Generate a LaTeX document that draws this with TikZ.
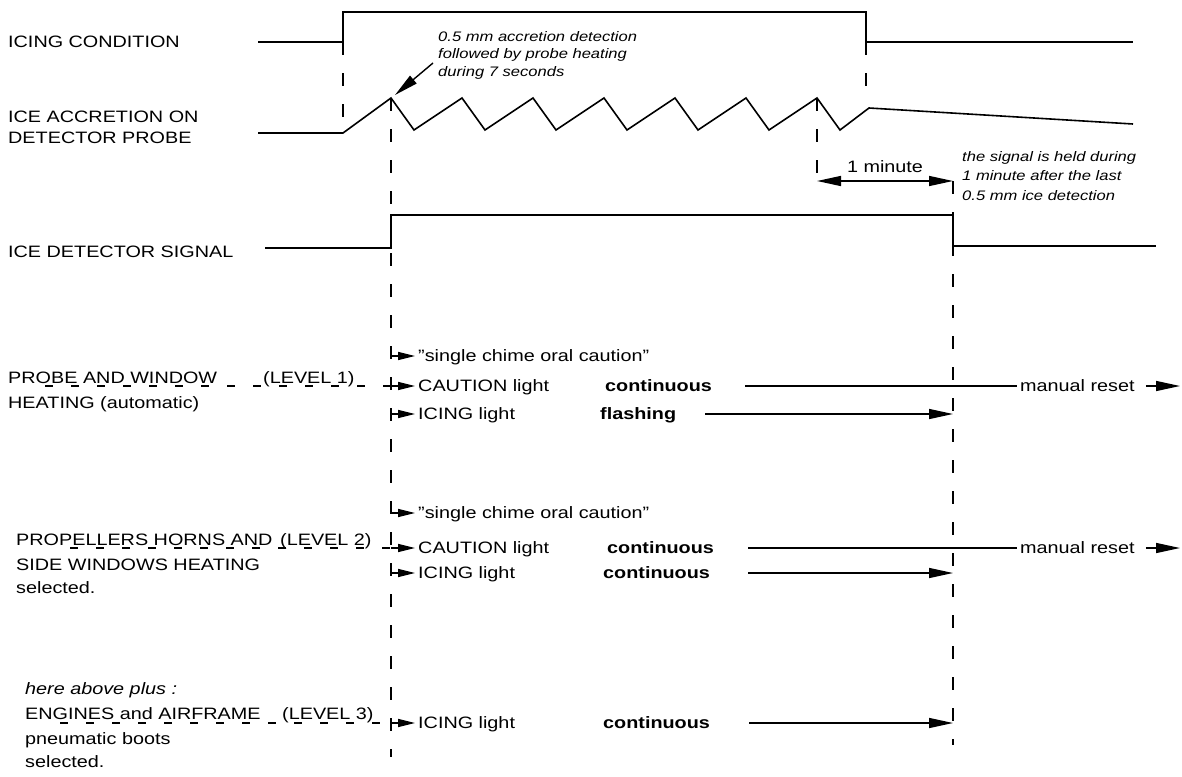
\documentclass[tikz,border=0pt]{standalone}
\usepackage{fontspec}
\setmainfont{Liberation Sans}[FakeStretch=1.2]
\usetikzlibrary{arrows.meta}

\begin{document}
\begin{tikzpicture}[
    x=1pt, y=-1pt,
    sig/.style={line width=1.6pt},
    guide/.style={line width=1.4pt, dash pattern=on 13pt off 18pt},
    leader/.style={line width=1.2pt, dash pattern=on 8pt off 18pt},
    tip/.style={-{Triangle[length=17pt,width=8pt]}, line width=1.4pt, shorten >=3pt},
    bigtip/.style={-{Triangle[length=24pt,width=10pt]}, line width=1.4pt},
    lbl/.style={anchor=base west, inner sep=0pt, font=\fontsize{16.5}{21}\selectfont},
    state/.style={lbl, font=\fontsize{16.5}{21}\selectfont\bfseries},
    note/.style={anchor=north west, inner sep=0pt, align=left,
                 font=\fontsize{13.8}{18}\selectfont\itshape}
]
\useasboundingbox (0,0) rectangle (1182,776);
\fill[white] (0,0) rectangle (1182,776);

% signals
\node[lbl] (icingLbl)  at (8,48)  {ICING CONDITION};
\node[lbl] (accrLbl)   at (8,122) {ICE ACCRETION ON};
\node[lbl] (probeLbl)  at (8,143) {DETECTOR PROBE};
\node[lbl] (signalLbl) at (8,257) {ICE DETECTOR SIGNAL};

\draw[sig] (258,42) -- (343,42) -- (343,12) -- (866,12) -- (866,42) -- (1133,42);
\draw[sig] (258,133) -- (343,133) -- (391,98)
    \foreach \k in {1,...,6} { -- ({343+71*\k},130) -- ({391+71*\k},98) }
    -- (840,130) -- (869,108) -- (1133,124);
\draw[sig] (265,248) -- (391,248) -- (391,215) -- (953,215) -- (953,246) -- (1156,246);

\coordinate (peakFirst) at (391,98);
\coordinate (peakLast)  at (817,98);
\coordinate (minFrom)   at (817,181);
\coordinate (minTo)     at (953,181);

% time guides
\draw[guide] (343,42) -- (343,133);
\draw[guide] (866,42) -- (866,92);
\draw[guide] (peakFirst) -- (391,757);
\draw[guide] (peakLast) -- (817,176);
\draw[guide] (minTo) -- (953,745);

\draw[{Triangle[length=24pt,width=10pt]}-{Triangle[length=24pt,width=10pt]}, line width=1.4pt]
    (minFrom) -- node[above=8pt, inner sep=0pt, font=\fontsize{16.5}{21}\selectfont] (minLbl) {1 minute} (minTo);

\node[note, font=\fontsize{13.8}{17.5}\selectfont\itshape] (noteProbe) at (438,31)
    {0.5 mm accretion detection\\followed by probe heating\\during 7 seconds};
\coordinate (noteTail) at (433,63);
\coordinate (noteHead) at (395,95);
\draw[bigtip] (noteTail) -- (noteHead);

\node[note, font=\fontsize{13.8}{19.5}\selectfont\itshape] (noteHold) at (962,151)
    {the signal is held during\\1 minute after the last\\0.5 mm ice detection};

% level 1
\node[lbl] (lvlOneA)   at (8,383)   {PROBE AND WINDOW};
\node[lbl] (lvlOneTag) at (263,383) {(LEVEL 1)};
\node[lbl] (lvlOneB)   at (8,408)   {HEATING (automatic)};
\coordinate (lvlOneStart) at (45,386);
\coordinate (chimeOneFrom) at (391,356);
\coordinate (cautOneFrom)  at (391,386);
\coordinate (iceOneFrom)   at (391,414);
\draw[leader] (lvlOneStart) -- (cautOneFrom);

\node[lbl]   (chimeOne) at (418,361) {"single chime oral caution"};
\node[lbl]   (cautOne)  at (418,391) {CAUTION light};
\node[lbl]   (iceOne)   at (418,419) {ICING light};
\node[state] (contOne)  at (605,391) {continuous};
\node[state] (flashOne) at (600,419) {flashing};
\node[lbl]   (resetOne) at (1020,391) {manual reset};

\draw[tip] (chimeOneFrom) -- (chimeOneFrom -| chimeOne.west);
\draw[tip] (cautOneFrom) -- (cautOneFrom -| cautOne.west);
\draw[tip] (iceOneFrom) -- (iceOneFrom -| iceOne.west);

\coordinate (cautOneLine) at (745,386);
\coordinate (resetOneTip) at (1180,386);
\coordinate (flashOneFrom) at (705,414);
\coordinate (flashOneTo)   at (953,414);
\draw[line width=1.4pt] (cautOneLine) -- ([xshift=-3pt]cautOneLine -| resetOne.west);
\draw[bigtip] ([xshift=11pt]resetOneTip -| resetOne.east) -- (resetOneTip);
\draw[bigtip] (flashOneFrom) -- (flashOneTo);

% level 2
\node[lbl] (lvlTwoA)   at (16,545)  {PROPELLERS HORNS AND};
\node[lbl] (lvlTwoTag) at (280,545) {(LEVEL 2)};
\node[lbl] (lvlTwoB)   at (16,570)  {SIDE WINDOWS HEATING};
\node[lbl] (lvlTwoC)   at (16,593)  {selected.};
\coordinate (lvlTwoStart) at (70,548);
\coordinate (chimeTwoFrom) at (391,513);
\coordinate (cautTwoFrom)  at (391,548);
\coordinate (iceTwoFrom)   at (391,573);
\draw[leader] (lvlTwoStart) -- (cautTwoFrom);

\node[lbl]   (chimeTwo) at (418,518) {"single chime oral caution"};
\node[lbl]   (cautTwo)  at (418,553) {CAUTION light};
\node[lbl]   (iceTwo)   at (418,578) {ICING light};
\node[state] (contTwo)  at (607,553) {continuous};
\node[state] (keepTwo)  at (603,578) {continuous};
\node[lbl]   (resetTwo) at (1020,553) {manual reset};

\draw[tip] (chimeTwoFrom) -- (chimeTwoFrom -| chimeTwo.west);
\draw[tip] (cautTwoFrom) -- (cautTwoFrom -| cautTwo.west);
\draw[tip] (iceTwoFrom) -- (iceTwoFrom -| iceTwo.west);

\coordinate (cautTwoLine) at (748,548);
\coordinate (resetTwoTip) at (1180,548);
\coordinate (keepTwoFrom) at (748,573);
\coordinate (keepTwoTo)   at (953,573);
\draw[line width=1.4pt] (cautTwoLine) -- ([xshift=-3pt]cautTwoLine -| resetTwo.west);
\draw[bigtip] ([xshift=11pt]resetTwoTip -| resetTwo.east) -- (resetTwoTip);
\draw[bigtip] (keepTwoFrom) -- (keepTwoTo);

% level 3
\node[lbl, font=\fontsize{16.5}{21}\selectfont\itshape] (lvlThreeHead) at (25,694) {here above plus :};
\node[lbl] (lvlThreeA)   at (25,719)  {ENGINES and AIRFRAME};
\node[lbl] (lvlThreeTag) at (282,719) {(LEVEL 3)};
\node[lbl] (lvlThreeB)   at (25,744)  {pneumatic boots};
\node[lbl] (lvlThreeC)   at (25,767)  {selected.};
\coordinate (lvlThreeStart) at (60,723);
\coordinate (iceThreeFrom)  at (391,723);
\draw[leader] (lvlThreeStart) -- (iceThreeFrom);

\node[lbl]   (iceThree)  at (418,728) {ICING light};
\node[state] (keepThree) at (603,728) {continuous};
\draw[tip] (iceThreeFrom) -- (iceThreeFrom -| iceThree.west);

\coordinate (keepThreeFrom) at (749,723);
\coordinate (keepThreeTo)   at (953,723);
\draw[bigtip] (keepThreeFrom) -- (keepThreeTo);
\end{tikzpicture}
\end{document}
